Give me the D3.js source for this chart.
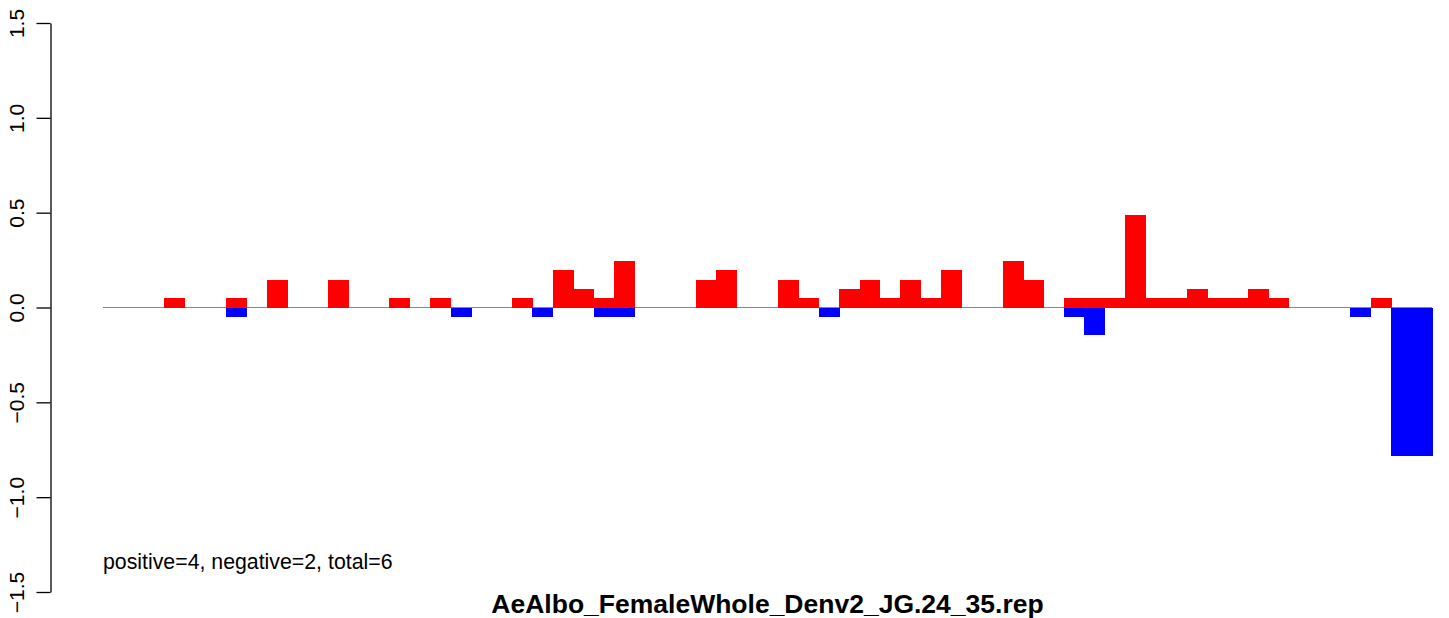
<!DOCTYPE html>
<html>
<head>
<meta charset="utf-8">
<script src="https://cdn.jsdelivr.net/npm/d3@7"></script>
<style>
	body { margin: 0; background: #fff; }
	text { font-family: "Liberation Sans", Arial, sans-serif; }
</style>
</head>
<body>
<div id="plot"></div>
<script>
// one bin per position, 65 bins
var bins = d3.range(1, 66);

// positive (red) values per bin
var posValues = [
	0, 0, 0, 0.049, 0, 0, 0.049, 0, 0.147, 0,
	0, 0.147, 0, 0, 0.049, 0, 0.049, 0, 0, 0,
	0.049, 0, 0.196, 0.098, 0.049, 0.245, 0, 0, 0, 0.147,
	0.196, 0, 0, 0.147, 0.049, 0, 0.098, 0.147, 0.049, 0.147,
	0.049, 0.196, 0, 0, 0.245, 0.147, 0, 0.049, 0.049, 0.049,
	0.49, 0.049, 0.049, 0.098, 0.049, 0.049, 0.098, 0.049, 0, 0,
	0, 0, 0.049, 0, 0
];

// negative (blue) values per bin
var negValues = [
	0, 0, 0, 0, 0, 0, -0.049, 0, 0, 0,
	0, 0, 0, 0, 0, 0, 0, -0.049, 0, 0,
	0, -0.049, 0, 0, -0.049, -0.049, 0, 0, 0, 0,
	0, 0, 0, 0, 0, -0.049, 0, 0, 0, 0,
	0, 0, 0, 0, 0, 0, 0, -0.049, -0.147, 0,
	0, 0, 0, 0, 0, 0, 0, 0, 0, 0,
	0, -0.049, 0, -0.784, -0.784
];

var yTicks = [-1.5, -1.0, -0.5, 0.0, 0.5, 1.0, 1.5];

var subText = "positive=4, negative=2, total=6";
var titleText = "AeAlbo_FemaleWhole_Denv2_JG.24_35.rep";

var width = 1449, height = 618;

var x = d3.scaleBand().domain(bins).range([103, 1432]).padding(0);
var y = d3.scaleLinear().domain([-1.5, 1.5]).range([592, 23]);

var svg = d3.select("#plot").append("svg")
	.attr("width", width)
	.attr("height", height);

// zero line
svg.append("line")
	.attr("x1", x.range()[0])
	.attr("x2", x.range()[1])
	.attr("y1", y(0))
	.attr("y2", y(0))
	.attr("stroke", "#888")
	.attr("stroke-width", 1.2);

var posData = bins.map(function(b, i) { return {bin: b, value: posValues[i]}; })
	.filter(function(d) { return d.value != 0; });
var negData = bins.map(function(b, i) { return {bin: b, value: negValues[i]}; })
	.filter(function(d) { return d.value != 0; });

svg.append("g")
	.attr("shape-rendering", "crispEdges")
	.selectAll("rect")
	.data(posData)
	.enter().append("rect")
	.attr("x", function(d) { return x(d.bin); })
	.attr("y", function(d) { return y(d.value); })
	.attr("width", x.bandwidth() + 0.5)
	.attr("height", function(d) { return y(0) - y(d.value); })
	.style("fill", "#ff0000");

svg.append("g")
	.attr("shape-rendering", "crispEdges")
	.selectAll("rect")
	.data(negData)
	.enter().append("rect")
	.attr("x", function(d) { return x(d.bin); })
	.attr("y", y(0))
	.attr("width", x.bandwidth() + 0.5)
	.attr("height", function(d) { return y(d.value) - y(0); })
	.style("fill", "#0000ff");

// y axis
var yAxis = svg.append("g")
	.attr("transform", "translate(50.5,0)")
	.call(d3.axisLeft(y).tickValues(yTicks).tickSize(14).tickSizeOuter(0)
		.tickFormat(d3.format(".1f")));

yAxis.selectAll("path, line")
	.attr("stroke", "#000")
	.attr("stroke-width", 1.3);

yAxis.selectAll("text")
	.attr("x", null)
	.attr("dy", null)
	.attr("text-anchor", "middle")
	.attr("transform", "translate(-27,0) rotate(-90)")
	.style("font-size", "21px")
	.style("font-family", "'Liberation Sans', Arial, sans-serif")
	.attr("fill", "#000");

svg.append("text")
	.attr("x", 103)
	.attr("y", 569)
	.style("font-size", "21.3px")
	.text(subText);

svg.append("text")
	.attr("x", (x.range()[0] + x.range()[1]) / 2)
	.attr("y", 613)
	.attr("text-anchor", "middle")
	.style("font-size", "26.5px")
	.style("font-weight", "bold")
	.text(titleText);
</script>
</body>
</html>
